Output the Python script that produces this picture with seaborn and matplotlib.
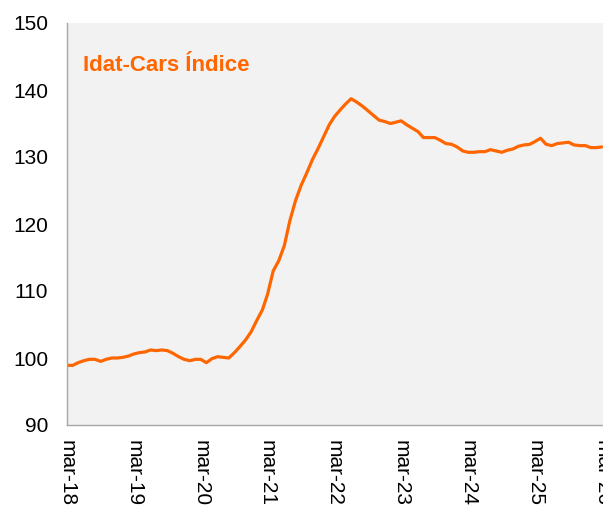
import matplotlib.pyplot as plt
import pandas as pd
import seaborn as sns

# monthly index values, mar-18 .. mar-26
start_month = "2018-03-01"
index_values = [
    98.9, 98.9, 99.3, 99.6, 99.8, 99.8, 99.5, 99.8, 100.0, 100.0, 100.1, 100.3,
    100.6, 100.8, 100.9, 101.2, 101.1, 101.2, 101.1, 100.7, 100.2, 99.8, 99.6, 99.8,
    99.8, 99.3, 99.9, 100.2, 100.1, 100.0, 100.8, 101.7, 102.7, 103.9, 105.6, 107.2,
    109.5, 113.0, 114.5, 116.8, 120.5, 123.5, 125.8, 127.6, 129.6, 131.2, 133.0, 134.8,
    136.0, 137.0, 137.9, 138.7, 138.2, 137.6, 136.9, 136.2, 135.5, 135.3, 135.0, 135.2,
    135.4, 134.8, 134.3, 133.8, 132.9, 132.9, 132.9, 132.5, 132.0, 131.9, 131.5, 130.9,
    130.7, 130.7, 130.8, 130.8, 131.1, 130.9, 130.7, 131.0, 131.2, 131.6, 131.8, 131.9,
    132.3, 132.8, 131.9, 131.7, 132.0, 132.1, 132.2, 131.8, 131.7, 131.7, 131.4, 131.4,
    131.5,
]
tick_dates = ["2018-03-01", "2019-03-01", "2020-03-01", "2021-03-01", "2022-03-01",
              "2023-03-01", "2024-03-01", "2025-03-01", "2026-03-01"]
tick_labels = ["mar-18", "mar-19", "mar-20", "mar-21", "mar-22",
               "mar-23", "mar-24", "mar-25", "mar-26"]
y_ticks = [90, 100, 110, 120, 130, 140, 150]
title = "Idat-Cars Índice"

ORANGE = "#FF6600"

df = pd.DataFrame({
    "date": pd.date_range(start_month, periods=len(index_values), freq="MS"),
    "value": index_values,
})

sns.set_theme(style="white")
plt.rcParams["font.family"] = ["Liberation Sans", "DejaVu Sans"]

fig = plt.figure(figsize=(6.03, 5.09), dpi=100)
# axes runs past the right edge, the picture is cropped there
ax = fig.add_axes([67 / 603, 84 / 509, 557 / 603, 402 / 509])
ax.set_facecolor("#F2F2F2")

sns.lineplot(data=df, x="date", y="value", color=ORANGE, linewidth=2.3, ax=ax)

ax.set_xlim(pd.Timestamp("2018-03-01"), pd.Timestamp("2026-07-01"))
ax.set_ylim(90, 150)
ax.set_yticks(y_ticks)
ax.set_xticks(pd.to_datetime(tick_dates))
ax.set_xticklabels(tick_labels, rotation=-90, ha="center", va="top")
ax.tick_params(axis="both", length=0, labelsize=15, colors="black")
ax.tick_params(axis="y", pad=13.5)
ax.tick_params(axis="x", pad=11)
ax.set_xlabel("")
ax.set_ylabel("")

for side in ["top", "right"]:
    ax.spines[side].set_visible(False)
for side in ["left", "bottom"]:
    ax.spines[side].set_color("#A6A6A6")
    ax.spines[side].set_linewidth(1)

fig.text(83 / 603, 1 - 71 / 509, title, color=ORANGE, fontsize=16,
         fontweight="bold", ha="left", va="baseline")

fig.savefig("out.png", dpi=100)
